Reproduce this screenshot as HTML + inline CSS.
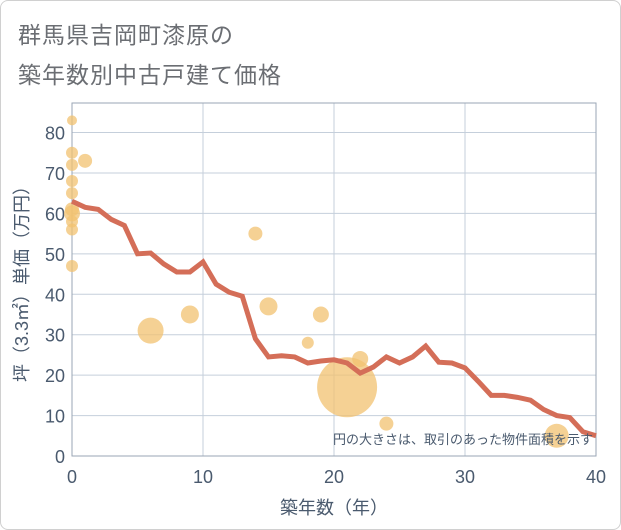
<!DOCTYPE html>
<html><head><meta charset="utf-8"><style>
body{margin:0;background:#fff;}
#wrap{position:relative;width:619px;height:528px;border:1px solid #d0d0d0;border-radius:8px;overflow:hidden;background:#fff;font-family:"Liberation Sans","Noto Sans CJK JP",sans-serif;}
.title{position:absolute;left:17px;font-size:23px;color:#6b6e73;letter-spacing:1px;}
</style></head><body>
<div id="wrap">
<div class="title" style="top:15px">群馬県吉岡町漆原の</div>
<div class="title" style="top:55px">築年数別中古戸建て価格</div>
<svg id="chart" width="621" height="530" style="position:absolute;left:-1px;top:-1px"></svg>
</div>
<script>
const lineYears=[0,1,2,3,4,5,6,7,8,9,10,11,12,13,14,15,16,17,18,19,20,21,22,23,24,25,26,27,28,29,30,31,32,33,34,35,36,37,38,39,40];
const linePrices=[63,61.5,61,58.5,57,50,50.2,47.5,45.5,45.5,48,42.5,40.5,39.5,29,24.5,24.8,24.5,23,23.5,23.8,23,20.5,22,24.5,23,24.5,27.2,23.2,23,21.8,18.5,15,15,14.5,13.8,11.5,10,9.5,6,5];
const bubbleYears=[0,0,0,1,0,0,0,0,0,0,0,6,9,14,15,18,19,21,22,24,37];
const bubblePrices=[83,75,72,73,68,65,61,60,58,56,47,31,35,55,37,28,35,17,24,8,5];
const bubbleSizes=[5,6,6,7,6,6,7,8,6,6,6,13,9,7,9,6,8,30,8,7,12];
const xTicks=[0,10,20,30,40];
const yTicks=[0,10,20,30,40,50,60,70,80];
const L=72,R=596,T=103,B=456,XMAX=40,YMAX=87.3;
const sx=v=>L+(v/XMAX)*(R-L);
const sy=v=>B-(v/YMAX)*(B-T);
const svg=document.getElementById('chart');
const NS='http://www.w3.org/2000/svg';
function mk(t,a){const e=document.createElementNS(NS,t);for(const k in a)e.setAttribute(k,a[k]);svg.appendChild(e);return e;}
yTicks.forEach(v=>{
 const g=mk('line',{x1:L,x2:R,y1:sy(v),y2:sy(v),stroke:'#c5cfdb','stroke-width':1});
 
 
 const t=mk('text',{x:L-7,y:sy(v)+7,'text-anchor':'end','font-size':18,fill:'#4a5a6e'});
 t.textContent=v;
 
 
});
xTicks.forEach(v=>{
 const g=mk('line',{x1:sx(v),x2:sx(v),y1:T,y2:B,stroke:'#c5cfdb','stroke-width':1});
 
 
 const t=mk('text',{x:sx(v),y:B+27,'text-anchor':'middle','font-size':18,fill:'#4a5a6e'});
 t.textContent=v;
 
 
});
const fr=mk('rect',{x:L,y:T,width:R-L,height:B-T,fill:'none',stroke:'#9aa6b4','stroke-width':1});


bubbleYears.forEach((x,i)=>{
 const c=mk('circle',{cx:sx(x),cy:sy(bubblePrices[i]),r:bubbleSizes[i],fill:'#f2c170','fill-opacity':0.75});
 
 
});
const pts=lineYears.map((x,i)=>sx(x)+','+sy(linePrices[i])).join(' ');
const pl=mk('polyline',{points:pts,fill:'none',stroke:'#d46e58','stroke-width':5,'stroke-linejoin':'miter'});


const note=mk('text',{x:R-3,y:444,'text-anchor':'end','font-size':13,fill:'#4a5a6e'});
note.textContent='円の大きさは、取引のあった物件面積を示す';


const xt=mk('text',{x:(L+R)/2,y:514,'text-anchor':'middle','font-size':18,fill:'#4a5a6e'});
xt.textContent='築年数（年）';


const yt=mk('text',{x:0,y:0,'text-anchor':'middle','font-size':18,fill:'#4a5a6e',transform:'translate(28,'+((T+B)/2)+') rotate(-90)'});
yt.textContent='坪（3.3㎡）単価（万円）';


</script>
</body></html>
